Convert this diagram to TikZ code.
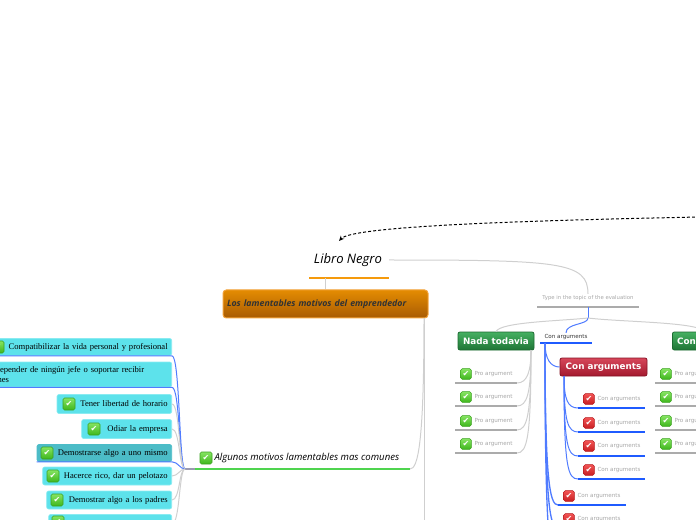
\documentclass[tikz,border=0pt]{standalone}
\usepackage{fontspec}
\setmainfont{Liberation Serif}
\newfontfamily\handfont{Open Sans}
\newfontfamily\evalfont{DejaVu Sans}
\usetikzlibrary{arrows.meta}

\definecolor{itemcyan}{HTML}{5DE2EB}
\definecolor{itemedge}{HTML}{8AEBF1}
\definecolor{itemteal}{HTML}{4CBCC7}
\definecolor{linegray}{HTML}{CFCFCF}
\definecolor{ulgray}{HTML}{ABABAB}
\definecolor{textgray}{HTML}{A6A6A6}
\definecolor{linkblue}{HTML}{4F7BFF}
\definecolor{ulblue}{HTML}{1F5BFF}
\definecolor{hubgray}{HTML}{9A9AB0}
\definecolor{ulgreen}{HTML}{4FD44F}
\definecolor{ulorange}{HTML}{F59A0C}
\definecolor{orangetop}{HTML}{E48C02}
\definecolor{orangebot}{HTML}{A85B03}
\definecolor{orangeedge}{HTML}{F2A23A}
\definecolor{greentop}{HTML}{45B062}
\definecolor{greenbot}{HTML}{1F7535}
\definecolor{greenedge}{HTML}{1C6A31}
\definecolor{redtop}{HTML}{D7475A}
\definecolor{redbot}{HTML}{A3192E}
\definecolor{rededge}{HTML}{861325}
\definecolor{oktop}{HTML}{86E462}
\definecolor{okbot}{HTML}{3EB61C}
\definecolor{okedge}{HTML}{3AA21E}
\definecolor{notop}{HTML}{F25454}
\definecolor{nobot}{HTML}{C81E22}
\definecolor{noedge}{HTML}{B51A1E}

\tikzset{every picture/.style={line width=0.75pt}}

\tikzset{
  grayline/.style={draw=linegray, line width=0.75pt},
  blueline/.style={draw=linkblue, line width=0.75pt},
  blueul/.style={draw=ulblue, line width=1.2pt},
  grayul/.style={draw=ulgray, line width=1pt},
  itembox/.style={fill=itemcyan, draw=itemedge, line width=0.5pt, rounded corners=1.5pt, anchor=east,
    inner xsep=3pt, inner ysep=0pt, minimum height=13.5pt, align=right, font=\fontsize{6.45}{8}\selectfont},
  okicon/.style={rounded corners=1.2pt, top color=oktop, bottom color=okbot, draw=okedge, line width=0.4pt,
    minimum size=9pt, inner sep=0pt, text=white, font=\evalfont\fontsize{6}{6}\selectfont},
  noicon/.style={okicon, top color=notop, bottom color=nobot, draw=noedge, minimum size=8pt},
  protext/.style={anchor=west, inner sep=0.75pt, text=textgray, font=\evalfont\fontsize{4.2}{5}\selectfont},
  boxtext/.style={inner sep=0pt, rounded corners=1.5pt, line width=0.6pt, text=white,
    font=\evalfont\bfseries\fontsize{6.6}{7}\selectfont},
  linkarrow/.style={dash pattern={on 2.2pt off 1.6pt}, line width=0.75pt, -{Stealth[length=4pt,width=3.5pt]}}
}

\begin{document}
\begin{tikzpicture}[x=0.75pt,y=0.75pt,yscale=-1,xscale=1]
	\path[use as bounding box] (0,0) rectangle (696,520);
	\clip (0,0) rectangle (696,520);
	
	%Dashed link
	\coordinate (link-from) at (700,217);
	\coordinate (link-to) at (339,241);
	\draw[linkarrow] (link-from) .. controls (500,221) and (352,227) .. (link-to);
	
	% Central topic
	\node[inner sep=0.75pt, font=\handfont\itshape\fontsize{9.8}{11}\selectfont] (libro) at (348,260) {Libro Negro};
	\coordinate (libro-ul-l) at (309,278);
	\coordinate (libro-ul-r) at (389,278);
	\draw[draw=ulorange, line width=2.2pt] (libro-ul-l) -- (libro-ul-r);
	
	% Orange topic
	\node[top color=orangetop, bottom color=orangebot, draw=orangeedge, line width=0.75pt, rounded corners=2.5pt,
	  inner xsep=3pt, inner ysep=0pt, text width=147.75pt, minimum height=21pt, align=left,
	  font=\handfont\itshape\bfseries\fontsize{6.6}{7.5}\selectfont, text=black!80] (motivos) at (325.5,304)
	  {Los lamentables motivos del emprendedor};
	\draw[grayline] (libro-ul-l -| motivos.north) -- (motivos.north);
	\coordinate (motivos-out) at (424,318);
	\coordinate (motivos-down) at (424,524);
	\draw[grayline] (motivos-out) -- (motivos-down);
	
	% Subtopic
	\coordinate (hub) at (185,469);
	\coordinate (algunos-l) at (195,469);
	\coordinate (algunos-r) at (410,469);
	\draw[grayline] (motivos-out) .. controls +(0,125) and +(8,0) .. (algunos-r);
	\draw[draw=hubgray, line width=1.5pt] (hub) -- (algunos-l);
	\draw[draw=ulgreen, line width=1.5pt] (algunos-l) -- (algunos-r);
	\node[okicon] (algunos-i) at (206,458) {✔};
	\node[anchor=west, inner sep=0.75pt, font=\handfont\itshape\fontsize{7.2}{8}\selectfont] (algunos) at (213,458)
	  {Algunos motivos lamentables mas comunes};
	
	% Left items
	\node[itembox, text width=130.5pt, minimum height=12.75pt] (item1) at (172,347) {Compatibilizar la vida personal y profesional};
	\node[okicon] (item1-i) at (-2,347) {✔};
	\node[itembox, align=left, text width=139pt, minimum height=18.75pt] (item2) at (172,374.5)
	  {No depender de ningún jefe o soportar recibir\\órdenes};
	\node[itembox, text width=80pt, minimum height=14.25pt] (item3) at (172,404) {Tener libertad de horario};
	\node[okicon] (item3-i) at (69,404) {✔};
	\node[itembox, text width=61.5pt, minimum height=14.25pt] (item4) at (172,429) {Odiar la empresa};
	\node[okicon] (item4-i) at (94,429) {✔};
	\node[itembox, fill=itemteal, draw=itemteal, text width=95pt, minimum height=12.75pt] (item5) at (172,453) {Demostrarse algo a uno mismo};
	\node[okicon] (item5-i) at (47,453) {✔};
	\node[itembox, text width=90.75pt, minimum height=13.5pt] (item6) at (172,476) {Hacerce rico, dar un pelotazo};
	\node[okicon] (item6-i) at (53,476) {✔};
	\node[itembox, text width=87.75pt, minimum height=13.5pt] (item7) at (172,500) {Demostrar algo a los padres};
	\node[okicon] (item7-i) at (57,500) {✔};
	\node[itembox, text width=86.25pt, minimum height=14.25pt] (item8) at (172,524) {};
	\node[okicon] (item8-i) at (58,522) {✔};
	
	%Curve Lines
	\draw[blueline] (item1.south west) -- (item1.south east) .. controls +(8,0) and +(-6,0) .. (hub);
	\draw[blueline] (item2.south west) -- (item2.south east) .. controls +(8,0) and +(-6,0) .. (hub);
	\draw[grayline] (item3.east) .. controls +(8,0) and +(-6,0) .. (hub);
	\draw[grayline] (item4.east) .. controls +(8,0) and +(-6,0) .. (hub);
	\draw[blueline] (item5.south west) -- (item5.south east) .. controls +(6,0) and +(-5,0) .. (hub);
	\draw[grayline] (item6.east) .. controls +(6,0) and +(-5,0) .. (hub);
	\draw[grayline] (item7.east) .. controls +(8,0) and +(-6,0) .. (hub);
	\draw[grayline] (item8.east) .. controls +(8,0) and +(-6,0) .. (hub);
	
	% Evaluation
	\node[inner sep=0.75pt, text=textgray, font=\evalfont\fontsize{4}{4.8}\selectfont] (eval) at (588,298)
	  {Type in the topic of the evaluation};
	\draw[grayline] (libro-ul-r |- libro.east) .. controls (560,260) and (588,262) .. (eval.north);
	\coordinate (eval-ul-l) at (537,307);
	\coordinate (eval-ul-r) at (639,307);
	\draw[grayul] (eval-ul-l) -- (eval-ul-r);
	\coordinate (evhub) at (588,318);
	\draw[blueline] (eval-ul-l -| evhub) -- (evhub);
	
	% Nada todavia
	\node[boxtext, top color=greentop, bottom color=greenbot, draw=greenedge, minimum width=57pt, minimum height=13.5pt] (nada) at (496,341) {Nada todavia};
	\draw[grayline] (evhub) .. controls (560,321) and (500,322) .. (nada.north);
	\coordinate (nada-out) at (531,350);
	
	\node[okicon, minimum size=8pt] (pro1-i) at (466,374) {✔};
	\node[protext] (pro1) at (473,374) {Pro argument};
	\coordinate (pro1-l) at (455,383); \coordinate (pro1-r) at (517,383);
	\draw[grayul] (pro1-l) -- (pro1-r);
	\node[okicon, minimum size=8pt] (pro2-i) at (466,397) {✔};
	\node[protext] (pro2) at (473,397) {Pro argument};
	\coordinate (pro2-l) at (455,406); \coordinate (pro2-r) at (517,406);
	\draw[grayul] (pro2-l) -- (pro2-r);
	\node[okicon, minimum size=8pt] (pro3-i) at (466,421) {✔};
	\node[protext] (pro3) at (473,421) {Pro argument};
	\coordinate (pro3-l) at (455,430); \coordinate (pro3-r) at (517,430);
	\draw[grayul] (pro3-l) -- (pro3-r);
	\node[okicon, minimum size=8pt] (pro4-i) at (466,444) {✔};
	\node[protext] (pro4) at (473,444) {Pro argument};
	\coordinate (pro4-l) at (455,453); \coordinate (pro4-r) at (517,453);
	\draw[grayul] (pro4-l) -- (pro4-r);
	
	\draw[grayline] (nada-out) .. controls +(0,22) and +(10,0) .. (pro1-r);
	\draw[grayline] (nada-out) .. controls +(0,44) and +(10,0) .. (pro2-r);
	\draw[grayline] (nada-out) .. controls +(0,66) and +(10,0) .. (pro3-r);
	\draw[grayline] (nada-out) .. controls +(0,88) and +(10,0) .. (pro4-r);
	
	% Con arguments
	\node[inner sep=0.75pt, text=black!80, font=\evalfont\fontsize{4.2}{5}\selectfont] (conarg) at (566,337) {Con arguments};
	\draw[blueline] (evhub) .. controls (588,325) and (566,323) .. (conarg.north);
	\coordinate (conarg-ul-l) at (540,343);
	\coordinate (conarg-ul-r) at (592,343);
	\draw[blueul] (conarg-ul-l) -- (conarg-ul-r);
	\coordinate (conarg-out) at (545,343);
	
	\node[boxtext, top color=redtop, bottom color=redbot, draw=rededge, minimum width=65.25pt, minimum height=13.5pt] (conbox) at (603.5,367) {Con arguments};
	\draw[blueline] (conarg-out) .. controls +(0,16) and +(-9,0) .. (conbox.west);
	\coordinate (conbox-out) at (564,376);
	
	\node[noicon] (con1-i) at (589,399) {✔};
	\node[protext] (con1) at (596,399) {Con arguments};
	\coordinate (con1-l) at (578,408); \coordinate (con1-r) at (645,408);
	\draw[blueul] (con1-l) -- (con1-r);
	\node[noicon] (con2-i) at (589,423) {✔};
	\node[protext] (con2) at (596,423) {Con arguments};
	\coordinate (con2-l) at (578,432); \coordinate (con2-r) at (645,432);
	\draw[blueul] (con2-l) -- (con2-r);
	\node[noicon] (con3-i) at (589,446) {✔};
	\node[protext] (con3) at (596,446) {Con arguments};
	\coordinate (con3-l) at (578,456); \coordinate (con3-r) at (645,456);
	\draw[blueul] (con3-l) -- (con3-r);
	\node[noicon] (con4-i) at (589,470) {✔};
	\node[protext] (con4) at (596,470) {Con arguments};
	\coordinate (con4-l) at (578,479); \coordinate (con4-r) at (645,479);
	\draw[blueul] (con4-l) -- (con4-r);
	
	\draw[blueline] (conbox-out) .. controls +(0,24) and +(-10,0) .. (con1-l);
	\draw[blueline] (conbox-out) .. controls +(0,46) and +(-10,0) .. (con2-l);
	\draw[blueline] (conbox-out) .. controls +(0,70) and +(-10,0) .. (con3-l);
	\draw[blueline] (conbox-out) .. controls +(0,92) and +(-10,0) .. (con4-l);
	
	\node[noicon] (con5-i) at (569,496) {✔};
	\node[protext] (con5) at (576,496) {Con arguments};
	\coordinate (con5-l) at (558,505); \coordinate (con5-r) at (626,505);
	\draw[blueul] (con5-l) -- (con5-r);
	\node[noicon] (con6-i) at (569,519) {✔};
	\node[protext] (con6) at (576,519) {Con arguments};
	\coordinate (con6-l) at (558,528); \coordinate (con6-r) at (626,528);
	\draw[blueul] (con6-l) -- (con6-r);
	\coordinate (con7-l) at (556,560);
	
	\draw[blueline, line width=1pt] (conarg-out) .. controls +(0,140) and +(-8,0) .. (con5-l);
	\draw[blueline, line width=1pt] (conarg-out) .. controls +(0,165) and +(-8,0) .. (con6-l);
	\draw[blueline, line width=1pt] (conarg-out) .. controls +(0,200) and +(-6,0) .. (con7-l);
	
	% Right topic (cut off)
	\node[boxtext, top color=greentop, bottom color=greenbot, draw=greenedge, anchor=west, inner xsep=3.5pt,
	  text width=40pt, align=left, minimum height=13.5pt] (contra) at (672,341) {Con};
	\draw[grayline] (evhub) .. controls (620,322) and (700,322) .. (contra.north);
	
	\node[okicon, minimum size=8pt] (rpro1-i) at (666,374) {✔};
	\node[protext] (rpro1) at (673,374) {Pro argument};
	\coordinate (rpro1-l) at (655,383); \coordinate (rpro1-r) at (717,383);
	\draw[grayul] (rpro1-l) -- (rpro1-r);
	\node[okicon, minimum size=8pt] (rpro2-i) at (666,397) {✔};
	\node[protext] (rpro2) at (673,397) {Pro argument};
	\coordinate (rpro2-l) at (655,406); \coordinate (rpro2-r) at (717,406);
	\draw[grayul] (rpro2-l) -- (rpro2-r);
	\node[okicon, minimum size=8pt] (rpro3-i) at (666,421) {✔};
	\node[protext] (rpro3) at (673,421) {Pro argument};
	\coordinate (rpro3-l) at (655,430); \coordinate (rpro3-r) at (717,430);
	\draw[grayul] (rpro3-l) -- (rpro3-r);
	\node[okicon, minimum size=8pt] (rpro4-i) at (666,444) {✔};
	\node[protext] (rpro4) at (673,444) {Pro argument};
	\coordinate (rpro4-l) at (655,453); \coordinate (rpro4-r) at (717,453);
	\draw[grayul] (rpro4-l) -- (rpro4-r);
	
\end{tikzpicture}
\end{document}
